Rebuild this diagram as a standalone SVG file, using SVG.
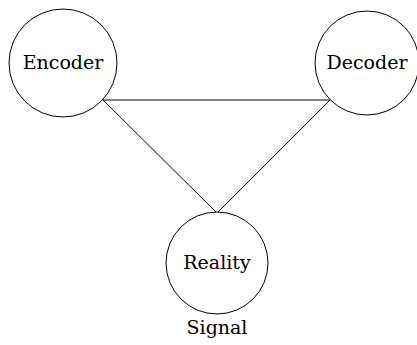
<svg xmlns="http://www.w3.org/2000/svg" width="417" height="345" viewBox="0 0 417 345">
<style>
.n{fill:#fff;stroke:#000;stroke-width:1}
.t{font-family:'DejaVu Serif',serif;font-size:19px;fill:#000;text-anchor:middle}
.c{stroke:#000;stroke-width:1;fill:none}
</style>
<rect width="417" height="345" fill="#fff"/>
<g id="connectors">
<line class="c" x1="103" y1="100" x2="330" y2="100"/>
<line class="c" x1="103" y1="100" x2="217" y2="213"/>
<line class="c" x1="330" y1="100" x2="217" y2="213"/>
</g>
<g id="encoder">
<circle class="n" cx="63" cy="63" r="54"/>
<text class="t" x="63" y="69">Encoder</text>
</g>
<g id="decoder">
<circle class="n" cx="367" cy="63" r="52"/>
<text class="t" x="367" y="69">Decoder</text>
</g>
<g id="reality">
<circle class="n" cx="217" cy="263" r="51"/>
<text class="t" x="217" y="269">Reality</text>
</g>
<g id="signal">
<text class="t" x="217" y="334">Signal</text>
</g>
</svg>
